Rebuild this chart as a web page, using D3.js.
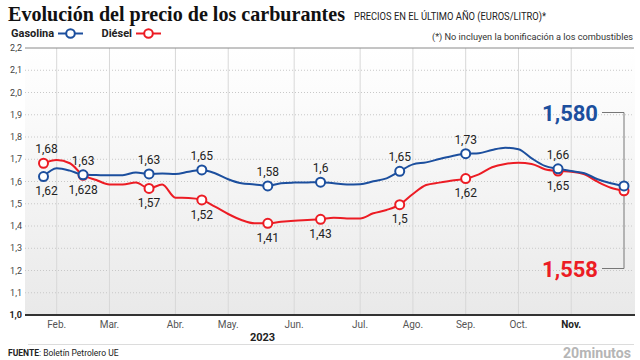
<!DOCTYPE html>
<html><head><meta charset="utf-8">
<script src="https://cdn.jsdelivr.net/npm/d3@7"></script>
<style>
html,body{margin:0;padding:0;background:#fff;}
svg{display:block;font-family:Roboto,"Noto Sans",sans-serif;}
</style></head>
<body>
<svg id="chart" width="640" height="360"></svg>
<script>
// ---- data ----
const gasolina = [1.622,1.659,1.649,1.630,1.629,1.628,1.628,1.641,1.634,1.636,1.634,1.644,1.652,1.637,1.610,1.592,1.587,1.580,1.592,1.595,1.596,1.597,1.592,1.587,1.588,1.601,1.614,1.646,1.677,1.686,1.701,1.715,1.725,1.727,1.742,1.752,1.745,1.704,1.670,1.657,1.647,1.637,1.610,1.592,1.580];
const diesel   = [1.682,1.697,1.682,1.628,1.607,1.587,1.587,1.595,1.569,1.586,1.527,1.526,1.517,1.487,1.454,1.427,1.412,1.412,1.419,1.424,1.427,1.430,1.437,1.434,1.434,1.457,1.472,1.496,1.544,1.584,1.595,1.604,1.613,1.632,1.664,1.679,1.684,1.679,1.655,1.647,1.644,1.632,1.599,1.572,1.558];
const markerWeeks = [0,3,8,12,17,21,27,32,39,44];
const gasLabels = ["1,62","1,63","1,63","1,65","1,58","1,6","1,65","1,73","1,66",null];
const dieselLabels = ["1,68","1,628","1,57","1,52","1,41","1,43","1,5","1,62","1,65",null];
const lastGas = "1,580";
const lastDiesel = "1,558";
const months = ["Feb.","Mar.","Abr.","May.","Jun.","Jul.","Ago.","Sep.","Oct.","Nov."];
const monthWeeks = [1,5,10,14,19,24,28,32,36,40];
const yTicks = [1.0,1.1,1.2,1.3,1.4,1.5,1.6,1.7,1.8,1.9,2.0,2.1,2.2];
const yearLabel = "2023";

// ---- setup ----
const svg = d3.select("#chart");
const BLUE = "#1c4f9e", RED = "#ec1c24";
const pLeft = 25, pRight = 634, pTop = 48, pBottom = 315;
const x = d3.scaleLinear().domain([0, gasolina.length - 1]).range([43.5, 624]);
const y = d3.scaleLinear().domain([1.0, 2.2]).range([pBottom, pTop]);
const fmt = v => d3.format(".1f")(v).replace(".", ",");

// background gradient
const defs = svg.append("defs");
const grad = defs.append("linearGradient").attr("id","bg").attr("x1",0).attr("y1",0).attr("x2",0).attr("y2",1);
grad.append("stop").attr("offset","0%").attr("stop-color","#ffffff");
grad.append("stop").attr("offset","16%").attr("stop-color","#fcfcfc");
grad.append("stop").attr("offset","100%").attr("stop-color","#e9e9e9");
svg.append("rect").attr("x",pLeft).attr("y",pTop).attr("width",pRight+1-pLeft).attr("height",pBottom-pTop).attr("fill","url(#bg)");

// horizontal dotted grid
svg.append("g").selectAll("line").data(yTicks.filter(t => t > 1.0 && t < 2.2)).join("line")
  .attr("x1", pLeft).attr("x2", pRight).attr("y1", d => y(d)).attr("y2", d => y(d))
  .attr("stroke", "#c8c8c8").attr("stroke-dasharray", "1,2");

// vertical month grid
svg.append("g").selectAll("line").data(monthWeeks).join("line")
  .attr("x1", d => x(d)).attr("x2", d => x(d)).attr("y1", pTop).attr("y2", pBottom)
  .attr("stroke", "#d8d8d8");

// top & bottom lines
svg.append("line").attr("x1",pLeft).attr("x2",pRight).attr("y1",y(2.2)).attr("y2",y(2.2)).attr("stroke","#8a8a8a");
svg.append("line").attr("x1",pLeft).attr("x2",pRight+1).attr("y1",y(1.0)).attr("y2",y(1.0)).attr("stroke","#333").attr("stroke-width",2);

// y labels
svg.append("g").selectAll("text").data(yTicks).join("text")
  .attr("x", 22).attr("y", d => y(d)).attr("dy","0.35em")
  .attr("text-anchor","end").attr("font-size", 9)
  .attr("font-weight", d => d === 1.0 ? 700 : 400)
  .attr("fill", d => d === 1.0 ? "#222" : "#444")
  .text(fmt);

// month labels
svg.append("g").selectAll("text").data(months).join("text")
  .attr("x", (d,i) => x(monthWeeks[i])).attr("y", 327.5)
  .attr("text-anchor","middle").attr("font-size",10)
  .attr("font-weight", (d,i) => i === months.length-1 ? 700 : 400)
  .attr("fill", (d,i) => i === months.length-1 ? "#222" : "#555")
  .text(d => d);
svg.append("text").attr("x", x(16.6)).attr("y", 341).attr("text-anchor","middle")
  .attr("font-size",11).attr("font-weight",700).attr("fill","#222").text(yearLabel);

// connector for final values
const lastI = gasolina.length - 1;
svg.append("path")
  .attr("d", `M602,112.5H${x(lastI)}V268.5H602`)
  .attr("fill","none").attr("stroke","#777").attr("stroke-width",1);

// lines
const line = d3.line().x((d,i) => x(i)).y(d => y(d)).curve(d3.curveMonotoneX);
svg.append("path").datum(diesel).attr("d", line).attr("fill","none").attr("stroke",RED).attr("stroke-width",2);
svg.append("path").datum(gasolina).attr("d", line).attr("fill","none").attr("stroke",BLUE).attr("stroke-width",2);

// markers
function markers(series, color) {
  svg.append("g").selectAll("circle").data(markerWeeks).join("circle")
    .attr("cx", d => x(d)).attr("cy", d => y(series[d])).attr("r", 4.5)
    .attr("fill","#fff").attr("stroke",color).attr("stroke-width",2);
}
markers(diesel, RED);
markers(gasolina, BLUE);

// point labels
function labels(series, texts, firstAbove) {
  svg.append("g").selectAll("text").data(markerWeeks.map((w,i) => ({w, t: texts[i], i})).filter(d => d.t))
    .join("text")
    .attr("x", d => x(d.w) + (d.i === 0 ? 3 : 0))
    .attr("y", d => {
      const above = d.i === 0 ? firstAbove : !firstAbove;
      return y(series[d.w]) + (above ? -14 : 14.5);
    })
    .attr("dy","0.35em").attr("text-anchor","middle")
    .attr("font-size",12).attr("fill","#222")
    .text(d => d.t);
}
labels(gasolina, gasLabels, false);
labels(diesel, dieselLabels, true);

// big final labels
svg.append("text").attr("x",598).attr("y",120.5).attr("text-anchor","end")
  .attr("font-size",22).attr("font-weight",700).attr("fill",BLUE).text(lastGas);
svg.append("text").attr("x",598).attr("y",276.5).attr("text-anchor","end")
  .attr("font-size",22).attr("font-weight",700).attr("fill",RED).text(lastDiesel);

// title & header
svg.append("text").attr("x",8).attr("y",21)
  .attr("font-family","'Liberation Serif','DejaVu Serif',serif")
  .attr("font-size",21).attr("font-weight",700).attr("fill","#111")
  .attr("textLength",337).attr("lengthAdjust","spacingAndGlyphs")
  .text("Evolución del precio de los carburantes");
svg.append("text").attr("x",354).attr("y",19.5)
  .attr("font-size",10.5).attr("fill","#222")
  .attr("textLength",192).attr("lengthAdjust","spacingAndGlyphs")
  .text("PRECIOS EN EL ÚLTIMO AÑO (EUROS/LITRO)*");
svg.append("text").attr("x",633).attr("y",40).attr("text-anchor","end")
  .attr("font-size",9.5).attr("fill","#333")
  .attr("textLength",201).attr("lengthAdjust","spacingAndGlyphs")
  .text("(*) No incluyen la bonificación a los combustibles");

// legend
const legend = [{name:"Gasolina", color:BLUE, tx:11, lx:58}, {name:"Diésel", color:RED, tx:101.5, lx:136}];
legend.forEach(l => {
  svg.append("text").attr("x",l.tx).attr("y",37).attr("font-size",11).attr("font-weight",700)
    .attr("fill","#222").text(l.name);
  svg.append("line").attr("x1",l.lx).attr("x2",l.lx+25).attr("y1",33.5).attr("y2",33.5)
    .attr("stroke",l.color).attr("stroke-width",2);
  svg.append("circle").attr("cx",l.lx+12.5).attr("cy",33.5).attr("r",4.3)
    .attr("fill","#fff").attr("stroke",l.color).attr("stroke-width",2);
});

// footer
svg.append("line").attr("x1",28).attr("x2",634).attr("y1",344.5).attr("y2",344.5).attr("stroke","#dcdcdc");
const src = svg.append("text").attr("x",8).attr("y",355.5).attr("font-size",8.5).attr("fill","#222");
src.append("tspan").attr("font-weight",700).text("FUENTE");
src.append("tspan").text(": Boletín Petrolero UE");
svg.append("text").attr("x",631).attr("y",357.5).attr("text-anchor","end")
  .attr("font-size",15).attr("font-weight",700).attr("fill","#b5b5b5")
  .attr("textLength",68).attr("lengthAdjust","spacingAndGlyphs").text("20minutos");
</script>
</body></html>
